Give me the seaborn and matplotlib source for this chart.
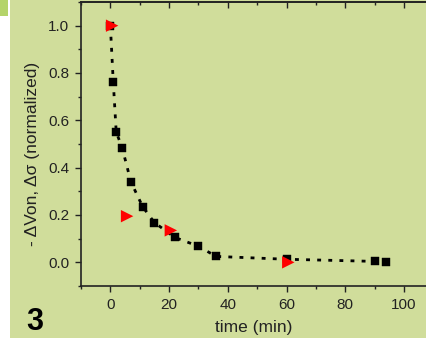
import matplotlib
matplotlib.use("Agg")
import matplotlib.pyplot as plt
from matplotlib.patches import Rectangle
from matplotlib.ticker import MultipleLocator
import seaborn as sns
import pandas as pd

# data
sq_time = [0, 1, 2, 4, 7, 11, 15, 22, 30, 36, 60, 90, 94]
sq_value = [1.0, 0.76, 0.55, 0.485, 0.34, 0.235, 0.168, 0.105, 0.068, 0.025, 0.013, 0.004, 0.0]
tri_time = [0.6, 5.7, 20.6, 60.6]
tri_value = [1.0, 0.195, 0.135, 0.0]
x_ticks = [0, 20, 40, 60, 80, 100]
y_ticks = [0.0, 0.2, 0.4, 0.6, 0.8, 1.0]
x_label = "time (min)"
y_label = "- \u0394Von, \u0394\u03c3 (normalized)"
panel_label = "3"

GREEN = "#d0dd9b"

sns.set_theme(style="ticks")
plt.rcParams["font.family"] = ["Liberation Sans", "DejaVu Sans"]

fig = plt.figure(figsize=(4.26, 3.38), dpi=100, facecolor=GREEN)
fig.patches.append(Rectangle((0, 0), 10 / 426, 1, transform=fig.transFigure,
                             facecolor="white", edgecolor="none", zorder=0))
fig.patches.append(Rectangle((0, 1 - 16 / 338), 8 / 426, 16 / 338, transform=fig.transFigure,
                             facecolor="#b4d46a", edgecolor="none", zorder=1))

ax = fig.add_axes([81 / 426, 1 - 286 / 338, 1 - 81 / 426, (286 - 2) / 338])
ax.set_facecolor(GREEN)

sq = pd.DataFrame({"t": sq_time, "v": sq_value})
tri = pd.DataFrame({"t": tri_time, "v": tri_value})

sns.lineplot(data=sq, x="t", y="v", ax=ax, color="black", lw=2.0,
             linestyle=(0, (1.4, 2.6)), zorder=2)
sns.scatterplot(data=sq, x="t", y="v", ax=ax, marker="s", color="black",
                s=28, edgecolor="black", linewidth=0.3, zorder=3)
sns.scatterplot(data=tri, x="t", y="v", ax=ax, marker=">", color="#ff0000",
                s=80, edgecolor="none", linewidth=0, zorder=4)

ax.set_xlim(-10, 107.5)
ax.set_ylim(-0.1, 1.1)
ax.set_xticks(x_ticks)
ax.set_yticks(y_ticks)
ax.set_yticklabels([f"{v:.1f}" for v in y_ticks])
ax.xaxis.set_minor_locator(MultipleLocator(10))
ax.yaxis.set_minor_locator(MultipleLocator(0.1))

for s in ["left", "bottom", "top"]:
    ax.spines[s].set_visible(True)
    ax.spines[s].set_color("#222222")
    ax.spines[s].set_linewidth(1.2)
ax.spines["right"].set_visible(False)

ax.tick_params(which="major", direction="out", length=4.5, width=1.0, color="#222222",
               labelsize=11, labelcolor="#222222", pad=4)
ax.tick_params(which="minor", direction="out", length=2.5, width=1.0, color="#222222")

sec = ax.secondary_xaxis("top")
sec.set_xticks(x_ticks)
sec.xaxis.set_minor_locator(MultipleLocator(10))
sec.tick_params(which="major", direction="in", length=4, width=1.0, color="#222222", labeltop=False)
sec.tick_params(which="minor", direction="in", length=2.5, width=1.0, color="#222222")
sec.spines["top"].set_color("#222222")
sec.spines["top"].set_linewidth(1.2)

ax.set_xlabel(x_label, fontsize=12.5, color="#222222", labelpad=6)
ax.set_ylabel(y_label, fontsize=12.5, color="#222222")
ax.yaxis.set_label_coords((40 - 81) / 345, (286 - 154) / 284)

fig.text(35 / 426, 1 - 322 / 338, panel_label, fontsize=22, fontweight="bold",
         ha="center", va="center", color="black")

fig.savefig("out.png", dpi=100, facecolor=GREEN)
